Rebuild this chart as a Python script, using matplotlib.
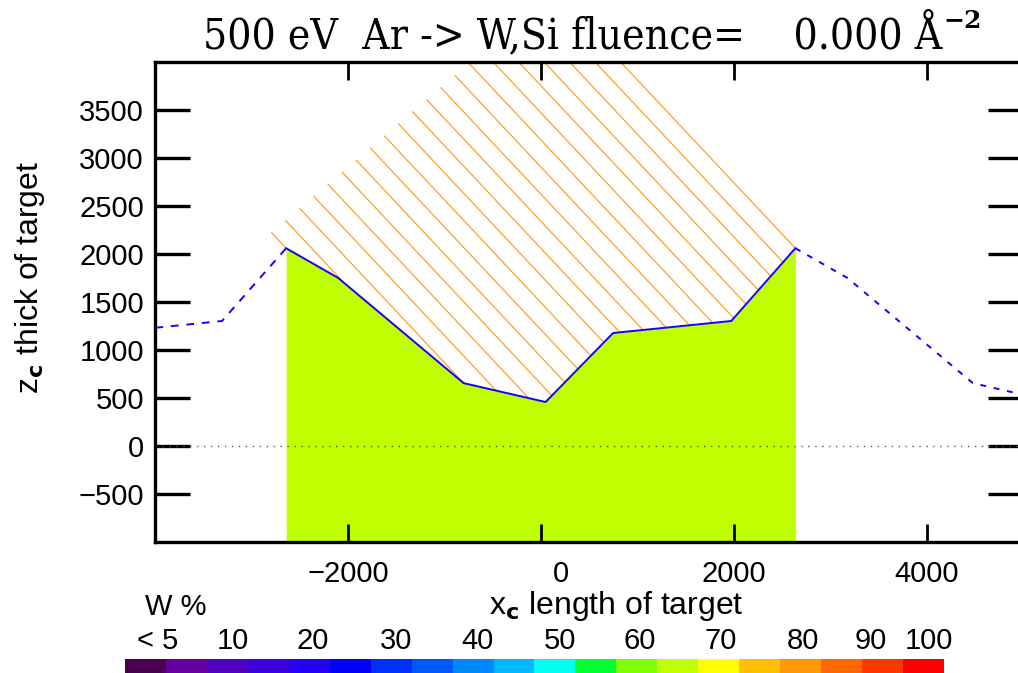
import numpy as np
import matplotlib
matplotlib.use("Agg")
import matplotlib.pyplot as plt
import matplotlib.transforms as mtrans
from matplotlib.colors import ListedColormap

# ---------------- data ----------------
surf_x = [-2640, -2100, -800, 50, 750, 1975, 2640]
surf_y = [2060, 1750, 655, 458, 1177, 1302, 2060]

xticks = [-2000, 0, 2000, 4000]
yticks = [-500, 0, 500, 1000, 1500, 2000, 2500, 3000, 3500]

cbar_colors = ["#4a0050", "#6400a0", "#5000c0", "#3c00dc", "#2400f4",
               "#0000ff", "#0030ff", "#0058ff", "#0088ff", "#00b8ff",
               "#00fff0", "#00ff30", "#80ff00", "#c0ff00", "#ffff00",
               "#ffc000", "#ff9800", "#ff6800", "#ff3800", "#ff0000"]
cbar_labels = ["< 5", "10", "20", "30", "40", "50", "60", "70", "80", "90", "100"]

title_text = "500 eV  Ar -> W,Si fluence=    0.000 Å"

# beam (trajectory) geometry
beam_slope = -1.07
n_lines = 21
start_offset = 155.0
start_slope = 0.86

fill_color = "#c0ff00"
orange = "#ffa028"

# ---------------- figure ----------------
W, H = 1018, 673
fig = plt.figure(figsize=(W / 100, H / 100), dpi=100)
plt.rcParams["font.family"] = ["Liberation Sans", "DejaVu Sans"]

ax_l, ax_r, ax_t, ax_b = 155, 1023, 62, 542
ax = fig.add_axes([ax_l / W, 1 - ax_b / H, (ax_r - ax_l) / W, (ax_b - ax_t) / H])
xmin, xmax, ymin, ymax = -4000, 5000, -1000, 4000
ax.set_xlim(xmin, xmax)
ax.set_ylim(ymin, ymax)

sx = np.array(surf_x, float)
sy = np.array(surf_y, float)
period = sx[-1] - sx[0]

# target fill
ax.fill_between(sx, sy, ymin, color=fill_color, lw=0, zorder=1)

# trajectories (hatch)
c_first = sy[0] - beam_slope * sx[0]
c_last = sy[-1] - beam_slope * sx[-1]
x0 = sx[0] - start_offset
y0 = sy[0] + beam_slope * (-start_offset)
for c in np.linspace(c_first, c_last, n_lines):
    xs = (c - y0 + start_slope * x0) / (start_slope - beam_slope)
    ys = c + beam_slope * xs
    best = None
    for i in range(len(sx) - 1):
        xa, xb, ya, yb = sx[i], sx[i + 1], sy[i], sy[i + 1]
        m = (yb - ya) / (xb - xa)
        if abs(m - beam_slope) < 1e-9:
            continue
        xi = (c - ya + m * xa) / (m - beam_slope)
        if xa - 1e-6 <= xi <= xb + 1e-6 and xi >= xs - 1e-6:
            if best is None or xi < best:
                best = xi
    if best is None:
        continue
    ax.plot([xs, best], [ys, c + beam_slope * best], color=orange, lw=0.9,
            zorder=2, solid_capstyle="butt")

# surface line
ax.plot(sx, sy, color="#1a00ff", lw=1.4, zorder=3)
ax.plot(sx - period, sy, color="#1a00ff", lw=1.4, ls=(0, (4, 4)), zorder=3)
ax.plot(sx + period, sy, color="#1a00ff", lw=1.4, ls=(0, (3, 4)), zorder=3)

# zero line
ax.axhline(0, color="#555555", lw=1.0, ls=(0, (1, 4)), zorder=4)

# axes styling
for s in ax.spines.values():
    s.set_linewidth(2.4)
    s.set_zorder(6)
ax.set_xticks(xticks)
ax.set_yticks(yticks)
ax.set_xticklabels(["\u22122000", "0", "2000", "4000"])
ax.set_yticklabels([("\u2212%d" % -v) if v < 0 else "%d" % v for v in yticks])
ax.tick_params(axis="y", which="both", direction="in", length=25, width=2.4,
               left=True, right=True, labelsize=21, pad=8)
ax.tick_params(axis="x", which="both", direction="in", length=13, width=2.0,
               bottom=True, top=True, labelsize=21, pad=13)
for lab in ax.get_xticklabels():
    if lab.get_text() == "0":
        lab.set_transform(lab.get_transform() +
                          mtrans.ScaledTranslation(20 / 100, 0, fig.dpi_scale_trans))

# labels
fig.text(30 / W, 1 - 277 / H, "z$_\\mathbf{c}$ thick of target", rotation=90,
         ha="center", va="center", fontsize=23)
fig.text(616 / W, 1 - 606 / H, "x$_\\mathbf{c}$ length of target",
         ha="center", va="center", fontsize=23)
fig.text(176 / W, 1 - 607 / H, "W %", ha="center", va="center", fontsize=21)

# title
t = fig.text(203 / W, 1 - 35 / H, title_text, ha="left", va="center",
             fontsize=30.5, family="DejaVu Serif", fontstretch="condensed")
fig.canvas.draw()
bb = t.get_window_extent()
fig.text(bb.x1 / W + 1 / W, 1 - 21 / H, "\u22122", ha="left", va="center",
         fontsize=18, family="DejaVu Serif", weight="bold")

# colorbar
cb_l, cb_r, cb_t, cb_b = 124.6, 943, 659, 673
cax = fig.add_axes([cb_l / W, 1 - cb_b / H, (cb_r - cb_l) / W, (cb_b - cb_t) / H])
cax.imshow(np.arange(len(cbar_colors))[None, :], cmap=ListedColormap(cbar_colors),
           aspect="auto", interpolation="nearest")
cax.axis("off")
label_px = [158, 233, 313, 396, 477, 560, 640, 721, 803, 871, 929]
for s, px in zip(cbar_labels, label_px):
    fig.text(px / W, 1 - 641 / H, s, ha="center", va="center", fontsize=21)

fig.savefig("out.png", dpi=100)
